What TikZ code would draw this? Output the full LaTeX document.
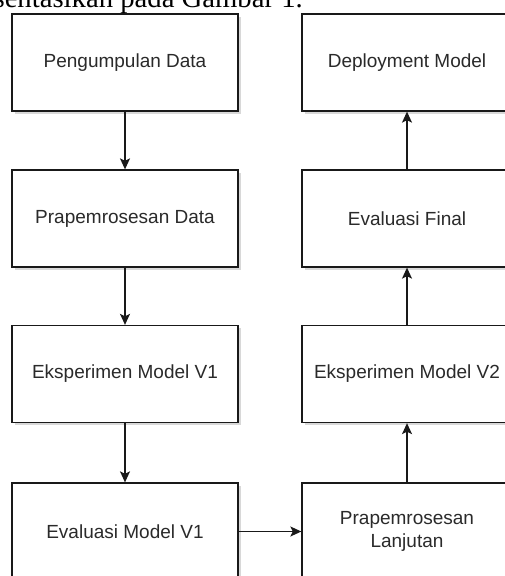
\documentclass[tikz,border=0pt]{standalone}
\usepackage{fontspec}
\setmainfont{Liberation Sans}
\newfontfamily\seriffont{Liberation Serif}
\usetikzlibrary{arrows.meta,shadows}
\definecolor{txt}{HTML}{2A2A2A}
\begin{document}
\begin{tikzpicture}[x=1pt,y=1pt,
  procbox/.style={draw=black!90, line width=1.3pt, fill=white, minimum height=97pt,
    inner sep=0pt, align=center, font=\fontsize{19}{23}\selectfont, text=txt,
    drop shadow={shadow xshift=2.5pt, shadow yshift=-2.5pt, opacity=0.25, fill=black!60}},
  leftbox/.style={procbox, minimum width=226pt},
  rightbox/.style={procbox, minimum width=210pt},
  flow/.style={draw=black!90, line width=1.3pt, -{Stealth[length=11pt,width=10pt,inset=2.5pt]}}]
\useasboundingbox (0,0) rectangle (505,-576);
\clip (0,0) rectangle (505,-576);
\fill[white] (0,0) rectangle (505,-576);
\node[anchor=base east, inner sep=0pt, font=\seriffont\fontsize{28.7}{30}\selectfont] (cap) at (303,-7) {sentasikan pada Gambar 1.};
\node[leftbox] (a) at (125,-62.5) {Pengumpulan Data};
\node[leftbox] (b) at (125,-218.5) {Prapemrosesan Data};
\node[leftbox] (c) at (125,-374) {Eksperimen Model V1};
\node[leftbox] (d) at (125,-531.5) {Evaluasi Model V1};
\node[rightbox] (e) at (407,-531.5) {Prapemrosesan\\Lanjutan};
\node[rightbox] (f) at (407,-374) {Eksperimen Model V2};
\node[rightbox] (g) at (407,-218.5) {Evaluasi Final};
\node[rightbox] (h) at (407,-62.5) {Deployment Model};
\draw[flow] (a) -- (b);
\draw[flow] (b) -- (c);
\draw[flow] (c) -- (d);
\draw[flow] (d) -- (e);
\draw[flow] (e) -- (f);
\draw[flow] (f) -- (g);
\draw[flow] (g) -- (h);
\end{tikzpicture}
\end{document}
